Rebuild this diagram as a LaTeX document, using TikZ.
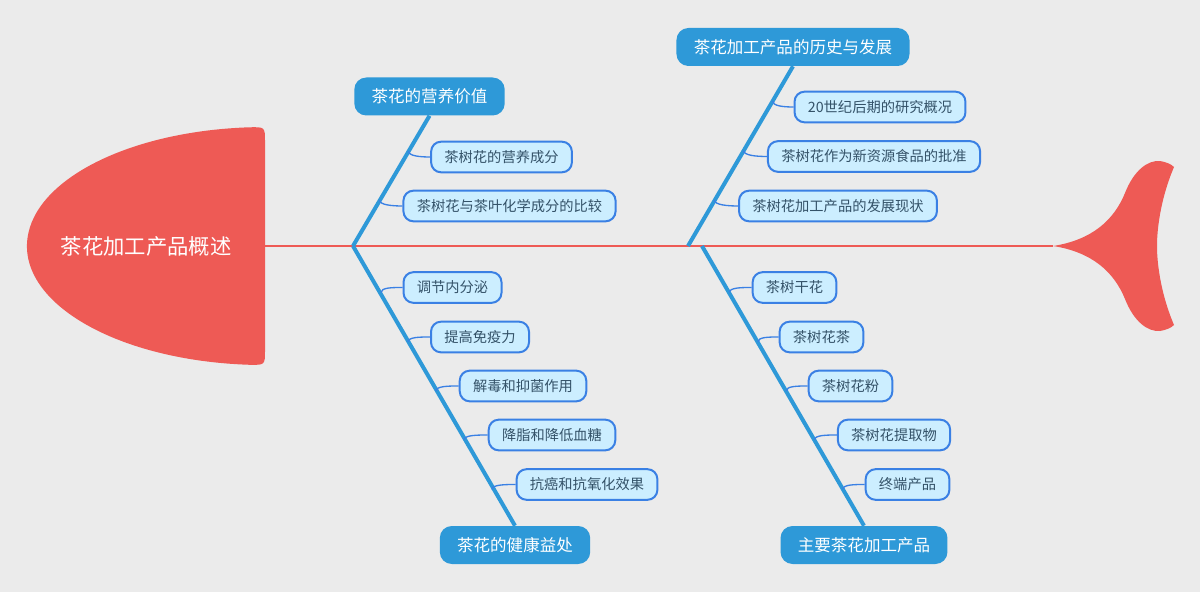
\documentclass[tikz,border=0pt]{standalone}
\usepackage{fontspec}
\setmainfont{Noto Sans CJK SC}
\usepackage{tikz}

\definecolor{bgray}{RGB}{235,235,235}
\definecolor{fishred}{RGB}{238,90,85}
\definecolor{bonebl}{RGB}{46,153,216}
\definecolor{leaffill}{RGB}{204,238,255}
\definecolor{leafline}{RGB}{58,128,228}
\definecolor{leaftext}{RGB}{52,82,104}

\tikzset{
  cat/.style={fill=bonebl, text=white, rounded corners=9pt, minimum height=28.5pt,
    inner xsep=13pt, font=\fontsize{12.4}{14}\selectfont},
  leaf/.style={fill=leaffill, draw=leafline, line width=1.5pt, text=leaftext,
    rounded corners=7.5pt, minimum height=23pt, inner xsep=10pt,
    font=\fontsize{10.7}{13}\selectfont},
  bone/.style={bonebl, line width=3pt},
  twig/.style={leafline, line width=1pt}
}

\begin{document}
\begin{tikzpicture}[x=0.75pt,y=-0.75pt]
\useasboundingbox (0,0) rectangle (1200,592);
\fill[bgray] (0,0) rectangle (1200,592);
\coordinate (neck) at (265,246);
\coordinate (tip) at (1053,246);
\coordinate (ra) at (353,246);
\coordinate (rc) at (688,246);
\coordinate (rd) at (702,246);
% head and tail
\fill[fishred] (250,364.8) arc[start angle=93.6, end angle=266.4, x radius=238, y radius=119]
  .. controls (265,127) .. (265,142) -- (265,350) .. controls (265,365) .. (250,364.8) -- cycle;
\fill[fishred] (1053,246) .. controls (1092,240) and (1114,220) .. (1125,193)
  .. controls (1134,170) and (1148,160) .. (1160,161)
  .. controls (1166,162) and (1171,164) .. (1174,167)
  .. controls (1162,195) and (1157,225) .. (1157,246)
  .. controls (1157,267) and (1162,297) .. (1174,325)
  .. controls (1171,328) and (1166,330) .. (1160,331)
  .. controls (1148,332) and (1134,322) .. (1125,299)
  .. controls (1114,272) and (1092,252) .. (1053,246) -- cycle;
\node[text=white, font=\fontsize{16}{19}\selectfont] (title) at (146,246) {茶花加工产品概述};
\draw[fishred, line width=1.5pt] (neck) -- (tip);
% main bones
\node[cat] (nutri) at (429.5,96.5) {茶花的营养价值};
\node[cat] (health) at (515,545) {茶花的健康益处};
\node[cat] (hist) at (793,47) {茶花加工产品的历史与发展};
\node[cat] (prod) at (864,545) {主要茶花加工产品};
\draw[bone] (ra) -- (nutri.south);
\draw[bone] (ra) -- (health.north);
\draw[bone] (rc) -- (hist.south);
\draw[bone] (rd) -- (prod.north);
% leaves above the spine
\foreach \n/\x/\y/\bx/\t in {n1/501.5/157/408.4/茶树花的营养成分,
  n2/509.5/206/379.5/茶树花与茶叶化学成分的比较,
  h1/880/107/772.5/20世纪后期的研究概况,
  h2/874/156.5/743.5/茶树花作为新资源食品的批准,
  h3/838/206/714.4/茶树花加工产品的发展现状}
{
\node[leaf] (\n) at (\x,\y) {\t};
\coordinate (\n-b) at (\bx,\y-6);
\draw[twig] (\n-b) .. controls +(0,5) and +(-10,0) .. (\n.west);
}
% leaves below the spine
\foreach \n/\x/\y/\bx/\t in {k1/452.5/287.5/381/调节内分泌,
  k2/480/337/408/提高免疫力,
  k3/523/386/436/解毒和抑菌作用,
  k4/552/435/464/降脂和降低血糖,
  k5/587/484.5/492/抗癌和抗氧化效果,
  p1/794.5/287.5/729.4/茶树干花,
  p2/821.5/337/757.9/茶树花茶,
  p3/850.5/386/786.2/茶树花粉,
  p4/894/435/814.4/茶树花提取物,
  p5/907.5/484.5/842.7/终端产品}
{
\node[leaf] (\n) at (\x,\y) {\t};
\coordinate (\n-b) at (\bx,\y+5);
\draw[twig] (\n-b) .. controls +(0,-5) and +(-10,0) .. (\n.west);
}
\end{tikzpicture}
\end{document}
